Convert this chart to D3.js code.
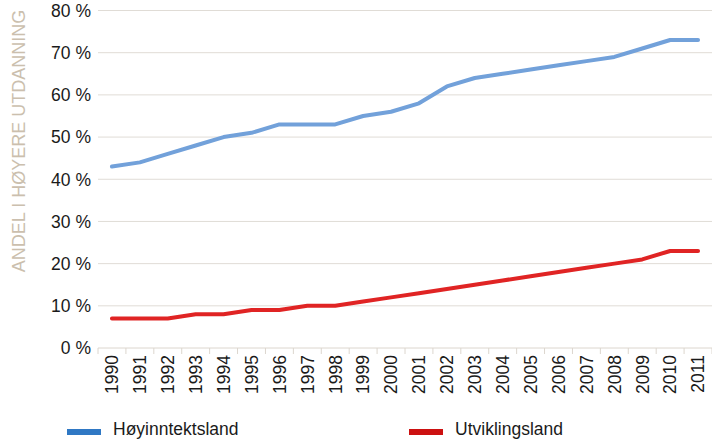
<!DOCTYPE html>
<html>
<head>
<meta charset="utf-8">
<script src="https://cdn.jsdelivr.net/npm/d3@7"></script>
<style>
  html, body { margin: 0; padding: 0; background: #fff; overflow: hidden; }
  text { font-family: "Liberation Sans", Arial, sans-serif; }
</style>
</head>
<body>
<div id="chart"></div>
<script>
// Share in higher education, 1990-2011
const years = ['1990','1991','1992','1993','1994','1995','1996','1997','1998','1999','2000',
               '2001','2002','2003','2004','2005','2006','2007','2008','2009','2010','2011'];
const highIncome = [43, 44, 46, 48, 50, 51, 53, 53, 53, 55, 56, 58, 62, 64, 65, 66, 67, 68, 69, 71, 73, 73];
const developing = [7, 7, 7, 8, 8, 9, 9, 10, 10, 11, 12, 13, 14, 15, 16, 17, 18, 19, 20, 21, 23, 23];
const yTicks = [0, 10, 20, 30, 40, 50, 60, 70, 80];
const seriesNames = ['Høyinntektsland', 'Utviklingsland'];

const W = 712, H = 439;
const plot = { left: 98, right: 712, top: 10.5, bottom: 348 };

const svg = d3.select('#chart').append('svg')
    .attr('width', W)
    .attr('height', H);

const x = d3.scaleBand()
    .domain(years)
    .range([plot.left, plot.right]);

const y = d3.scaleLinear()
    .domain([0, 80])
    .range([plot.bottom, plot.top]);

// grid lines
svg.append('g')
    .selectAll('line')
    .data(yTicks.filter(d => d > 0))
    .enter()
    .append('line')
    .attr('x1', plot.left)
    .attr('x2', plot.right)
    .attr('y1', d => y(d))
    .attr('y2', d => y(d))
    .attr('stroke', '#e0dcd6')
    .attr('stroke-width', 1);

// y tick labels
svg.append('g')
    .selectAll('text')
    .data(yTicks)
    .enter()
    .append('text')
    .attr('x', 91)
    .attr('y', d => y(d))
    .attr('dy', '0.36em')
    .attr('text-anchor', 'end')
    .attr('font-size', '17.5px')
    .attr('fill', '#1a1a1a')
    .text(d => d + ' %');

// x axis line + category ticks (between categories)
svg.append('line')
    .attr('x1', plot.left)
    .attr('x2', plot.right)
    .attr('y1', plot.bottom)
    .attr('y2', plot.bottom)
    .attr('stroke', '#dcd6ce')
    .attr('stroke-width', 1);

svg.append('g')
    .selectAll('line')
    .data(years.concat(['end']))
    .enter()
    .append('line')
    .attr('x1', (d, i) => plot.left + i * x.step())
    .attr('x2', (d, i) => plot.left + i * x.step())
    .attr('y1', plot.bottom)
    .attr('y2', plot.bottom + 6)
    .attr('stroke', '#dcd6ce')
    .attr('stroke-width', 1);

// year labels, rotated
svg.append('g')
    .selectAll('text')
    .data(years)
    .enter()
    .append('text')
    .attr('transform', d => `translate(${x(d) + x.bandwidth() / 2},${plot.bottom + 7}) rotate(-90)`)
    .attr('dy', '0.36em')
    .attr('text-anchor', 'end')
    .attr('font-size', '17.5px')
    .attr('fill', '#1a1a1a')
    .text(d => d);

// y axis title
svg.append('text')
    .attr('transform', `translate(25,141) rotate(-90)`)
    .attr('text-anchor', 'middle')
    .attr('font-size', '18px')
    .attr('fill', '#cbbfae')
    .text('ANDEL I HØYERE UTDANNING');

// lines
const line = d3.line()
    .x((d, i) => x(years[i]) + x.bandwidth() / 2)
    .y(d => y(d));

svg.append('path')
    .datum(highIncome)
    .attr('fill', 'none')
    .attr('stroke', '#72a1da')
    .attr('stroke-width', 4)
    .attr('stroke-linecap', 'round')
    .attr('stroke-linejoin', 'round')
    .attr('d', line);

svg.append('path')
    .datum(developing)
    .attr('fill', 'none')
    .attr('stroke', '#e02424')
    .attr('stroke-width', 4)
    .attr('stroke-linecap', 'round')
    .attr('stroke-linejoin', 'round')
    .attr('d', line);

// legend
const legend = [
    { name: seriesNames[0], color: '#2f78c4', x: 67 },
    { name: seriesNames[1], color: '#cc1111', x: 409 }
];
legend.forEach(l => {
    svg.append('rect')
        .attr('x', l.x)
        .attr('y', 429)
        .attr('width', 34)
        .attr('height', 6)
        .attr('fill', l.color);
    svg.append('text')
        .attr('x', l.x + 46)
        .attr('y', 435)
        .attr('font-size', '17.5px')
        .attr('fill', '#1a1a1a')
        .text(l.name);
});
</script>
</body>
</html>
